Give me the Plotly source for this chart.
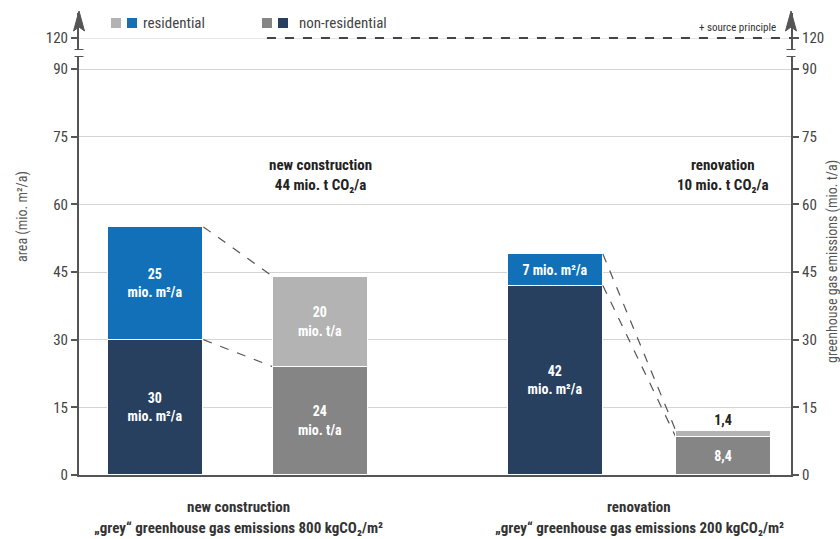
import plotly.graph_objects as go

# ---- data -------------------------------------------------------------
groups = ["new construction", "renovation"]
area_nonres = [30, 42]          # mio. m²/a
area_res = [25, 7]              # mio. m²/a
emis_nonres = [24, 8.4]         # mio. t/a
emis_res = [20, 1.4]            # mio. t/a
intensity = [800, 200]          # kgCO2/m²
source_principle = 120          # mio. t/a
y_ticks = [0, 15, 30, 45, 60, 75, 90]

# ---- styling ----------------------------------------------------------
FONT = "Liberation Sans Narrow, Roboto Condensed, DejaVu Sans Condensed, sans-serif"
NAVY, BLUE = "#27405f", "#1170b8"
GREY, LIGHT = "#858585", "#b3b3b3"
AXIS = "#555555"
GRID = "#d4d4d4"

x_area = [1.08, 6.69]
x_emis = [3.39, 9.05]
bw = 1.335


def fmt(v):
    return f"{v:g}".replace(".", ",")


fig = go.Figure()

# area bars (left axis)
fig.add_bar(x=x_area, y=area_nonres, width=bw, marker=dict(color=NAVY, line=dict(color="white", width=1)),
            text=[f"<b>{fmt(v)}<br>mio. m²/a</b>" for v in area_nonres],
            textposition="inside", insidetextanchor="middle", textangle=0,
            textfont=dict(color="white", size=14, family=FONT), yaxis="y", showlegend=False)
fig.add_bar(x=x_area, y=area_res, width=bw, marker=dict(color=BLUE, line=dict(color="white", width=1)),
            text=[f"<b>{fmt(area_res[0])}<br>mio. m²/a</b>", f"<b>{fmt(area_res[1])} mio. m²/a</b>"],
            textposition="inside", insidetextanchor="middle", textangle=0,
            textfont=dict(color="white", size=14, family=FONT), yaxis="y", showlegend=False)

# emission bars (right axis)
fig.add_bar(x=x_emis, y=emis_nonres, width=bw, marker=dict(color=GREY, line=dict(color="white", width=1)),
            text=[f"<b>{fmt(emis_nonres[0])}<br>mio. t/a</b>", f"<b>{fmt(emis_nonres[1])}</b>"],
            textposition="inside", insidetextanchor="middle", textangle=0,
            textfont=dict(color="white", size=14, family=FONT), yaxis="y2", showlegend=False)
fig.add_bar(x=x_emis, y=emis_res, width=bw, marker=dict(color=LIGHT, line=dict(color="white", width=1)),
            text=[f"<b>{fmt(emis_res[0])}<br>mio. t/a</b>", f"<b>{fmt(emis_res[1])}</b>"],
            textposition=["inside", "outside"], insidetextanchor="middle", textangle=0,
            textfont=dict(color=["white", "#222222"], size=14, family=FONT),
            outsidetextfont=dict(color="#222222", size=14, family=FONT),
            yaxis="y2", showlegend=False, cliponaxis=False)

# dashed connectors between area and emission stacks
for i in range(2):
    for ya, ye in [(area_nonres[i] + area_res[i], emis_nonres[i] + emis_res[i]),
                   (area_nonres[i], emis_nonres[i])]:
        fig.add_scatter(x=[x_area[i] + bw / 2, x_emis[i] - bw / 2], y=[ya, ye], mode="lines",
                        line=dict(color=AXIS, width=1.2, dash="dash"), yaxis="y",
                        showlegend=False, hoverinfo="skip")

# source principle level on the upper axis segment
fig.add_scatter(x=[2.64, 10], y=[source_principle, source_principle], mode="lines",
                line=dict(color="#444444", width=2.2, dash="dash"), yaxis="y3",
                showlegend=False, hoverinfo="skip", cliponaxis=False)

low_top = 92.88
up_range = [117.34, 125.54]
tickfont = dict(family=FONT, size=15, color="#444444")

fig.update_layout(
    width=840, height=539,
    margin=dict(l=79, r=49, t=13, b=64, autoexpand=False),
    paper_bgcolor="white", plot_bgcolor="white",
    barmode="stack", bargap=0,
    font=dict(family=FONT, color="#333333"),
    xaxis=dict(range=[0, 10], showgrid=False, zeroline=False, showticklabels=False,
               showline=True, linecolor=AXIS, linewidth=2, ticks="", automargin=False),
    yaxis=dict(domain=[0, 0.9069], range=[0, low_top], tickvals=y_ticks, automargin=False,
               showgrid=True, gridcolor=GRID, gridwidth=1, zeroline=False,
               showline=True, linecolor=AXIS, linewidth=2,
               ticks="outside", ticklen=6, tickwidth=1.5, tickcolor=AXIS, tickfont=tickfont),
    yaxis2=dict(domain=[0, 0.9069], range=[0, low_top], overlaying="y", side="right",
                anchor="x", tickvals=y_ticks, showgrid=False, zeroline=False, automargin=False,
                showline=True, linecolor=AXIS, linewidth=2,
                ticks="outside", ticklen=6, tickwidth=1.5, tickcolor=AXIS, tickfont=tickfont),
    yaxis3=dict(domain=[0.9199, 1], range=up_range, tickvals=[source_principle], anchor="x",
                showgrid=True, gridcolor="#e6e6e6", zeroline=False, automargin=False,
                showline=True, linecolor=AXIS, linewidth=2,
                ticks="outside", ticklen=6, tickwidth=1.5, tickcolor=AXIS, tickfont=tickfont),
    yaxis4=dict(domain=[0.9199, 1], range=up_range, tickvals=[source_principle], overlaying="y3",
                side="right", anchor="x", showgrid=False, zeroline=False, automargin=False,
                showline=True, linecolor=AXIS, linewidth=2,
                ticks="outside", ticklen=6, tickwidth=1.5, tickcolor=AXIS, tickfont=tickfont),
)
# keep an invisible trace on y4 so the axis is drawn
fig.add_scatter(x=[0], y=[source_principle], yaxis="y4", mode="markers",
                marker=dict(opacity=0), showlegend=False, hoverinfo="skip")


def px_x(p):
    return (p - 79) / 712


def px_y(p):
    return (475 - p) / 462


shapes = []
# axis break caps
cap = 4.5 / 712
for xp in (0, 1):
    shapes.append(dict(type="line", xref="paper", yref="y", x0=xp - cap, x1=xp + cap,
                       y0=low_top, y1=low_top, line=dict(color=AXIS, width=2)))
    shapes.append(dict(type="line", xref="paper", yref="y3", x0=xp - cap, x1=xp + cap,
                       y0=up_range[0], y1=up_range[0], line=dict(color=AXIS, width=2)))

# arrowheads at the top of both axes
for xa in (79, 791):
    pts = [(xa, 11), (xa + 5.5, 31), (xa, 27), (xa - 5.5, 31)]
    path = "M " + " L ".join(f"{px_x(a):.5f},{px_y(b):.5f}" for a, b in pts) + " Z"
    shapes.append(dict(type="path", xref="paper", yref="paper", path=path,
                       fillcolor=AXIS, line=dict(color=AXIS, width=1)))

# legend swatches
for x0, col in [(111, LIGHT), (127, BLUE), (262, GREY), (278, NAVY)]:
    shapes.append(dict(type="rect", xref="paper", yref="paper", x0=px_x(x0), x1=px_x(x0 + 10),
                       y0=px_y(28), y1=px_y(18), fillcolor=col, line=dict(width=0)))
fig.update_layout(shapes=shapes)

ann = []
# axis titles
ann.append(dict(x=px_x(22), y=px_y(217), xref="paper", yref="paper", text="area (mio. m²/a)",
                textangle=-90, showarrow=False, xanchor="center", yanchor="middle",
                font=dict(family=FONT, size=14, color="#555555")))
ann.append(dict(x=px_x(832), y=px_y(262), xref="paper", yref="paper",
                text="greenhouse gas emissions (mio. t/a)",
                textangle=-90, showarrow=False, xanchor="center", yanchor="middle",
                font=dict(family=FONT, size=14, color="#555555")))
# legend text
ann.append(dict(x=px_x(141), y=px_y(23), xref="paper", yref="paper", text="residential",
                showarrow=False, xanchor="left", yanchor="middle",
                font=dict(family=FONT, size=15, color="#444444")))
ann.append(dict(x=px_x(297), y=px_y(23), xref="paper", yref="paper", text="non-residential",
                showarrow=False, xanchor="left", yanchor="middle",
                font=dict(family=FONT, size=15, color="#444444")))
ann.append(dict(x=px_x(778), y=122.4, xref="paper", yref="y3", text="+ source principle",
                showarrow=False, xanchor="right", yanchor="middle",
                font=dict(family=FONT, size=11, color="#333333")))

# group totals above the emission bars and group captions below the axis
for i in range(2):
    total = emis_nonres[i] + emis_res[i]
    ann.append(dict(x=x_emis[i], y=66.5, xref="x", yref="y",
                    text=f"<b>{groups[i]}<br>{round(total):d} mio. t CO₂/a</b>",
                    showarrow=False, align="center",
                    font=dict(family=FONT, size=15, color="#222222")))
    xc = (x_area[i] + x_emis[i]) / 2
    ann.append(dict(x=xc, y=px_y(507), xref="x", yref="paper",
                    text=f"<b>{groups[i]}</b>", showarrow=False, yanchor="middle",
                    font=dict(family=FONT, size=15, color="#333333")))
    ann.append(dict(x=xc, y=px_y(528), xref="x", yref="paper",
                    text=f"<b>„grey“ greenhouse gas emissions {intensity[i]} kgCO₂/m²</b>",
                    showarrow=False, yanchor="middle",
                    font=dict(family=FONT, size=15, color="#333333")))
fig.update_layout(annotations=ann)

fig.write_html("out.html")
